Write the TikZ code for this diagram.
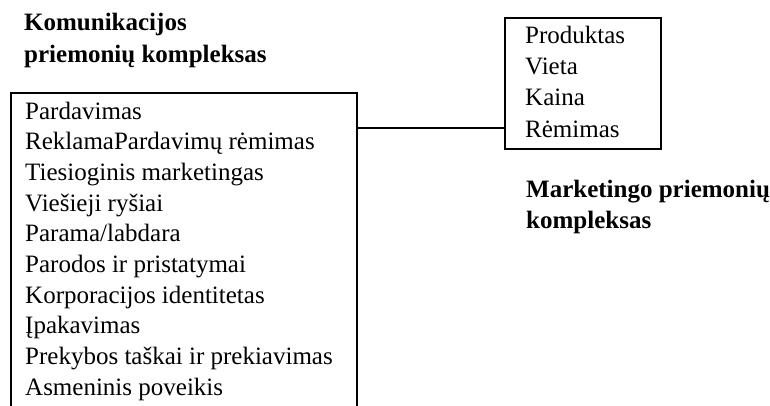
\documentclass[tikz,border=0pt]{standalone}
\usepackage{fontspec}
\setmainfont{Liberation Serif}
\tikzset{
  dezute/.style={draw=black, line width=1.6pt, rectangle, inner sep=0pt, anchor=north west},
  eilute/.style={anchor=base west, inner sep=0pt, font=\fontsize{25}{30}\selectfont},
  antraste/.style={eilute, font=\fontsize{25}{30}\selectfont\bfseries}
}

\begin{document}
\begin{tikzpicture}[x=1pt, y=-1pt]
    \useasboundingbox (0,0) rectangle (770,405);
    \clip (0,0) rectangle (770,405);
    % antrastes
    \node[antraste] (kom1) at (24,30) {Komunikacijos};
    \node[antraste] (kom2) at (24,62) {priemonių kompleksas};
    \node[antraste] (mark1) at (526,197) {Marketingo priemonių};
    \node[antraste] (mark2) at (526,228) {kompleksas};
    % dezutes
    \node[dezute, minimum width=346pt, minimum height=330pt] (komunikacijos) at (10,92) {};
    \node[dezute, minimum width=156pt, minimum height=131pt] (marketingas) at (504,17) {};
    \node[eilute] (k1) at (25,119) {Pardavimas};
    \node[eilute] (k2) at (25,149.7) {ReklamaPardavimų rėmimas};
    \node[eilute] (k3) at (25,180.3) {Tiesioginis marketingas};
    \node[eilute] (k4) at (25,211) {Viešieji ryšiai};
    \node[eilute] (k5) at (25,241.7) {Parama/labdara};
    \node[eilute] (k6) at (25,272.3) {Parodos ir pristatymai};
    \node[eilute] (k7) at (25,303) {Korporacijos identitetas};
    \node[eilute] (k8) at (25,333.7) {Įpakavimas};
    \node[eilute] (k9) at (25,364.3) {Prekybos taškai ir prekiavimas};
    \node[eilute] (k10) at (25,395) {Asmeninis poveikis};
    \node[eilute] (m1) at (525,43) {Produktas};
    \node[eilute] (m2) at (525,74.3) {Vieta};
    \node[eilute] (m3) at (525,105.6) {Kaina};
    \node[eilute] (m4) at (525,137) {Rėmimas};
    % jungtis
    \coordinate (jungtis) at (430,128);
    \draw[black, line width=1.4pt] (komunikacijos.east |- jungtis) -- (marketingas.west |- jungtis);
\end{tikzpicture}
\end{document}
